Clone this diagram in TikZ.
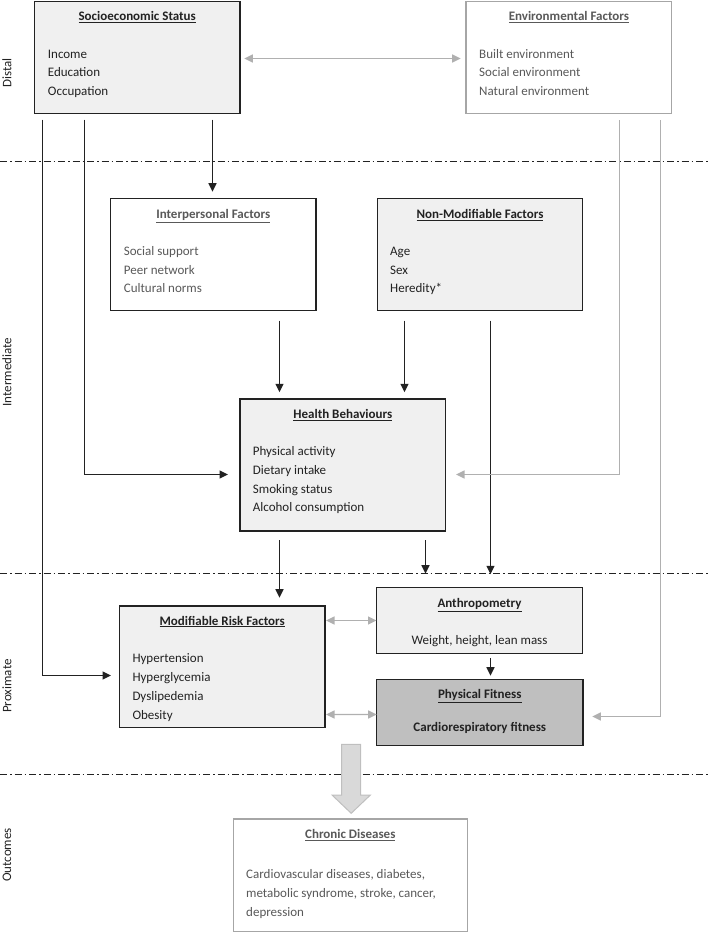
\documentclass[tikz,border=0pt]{standalone}
\usepackage{fontspec}
\setmainfont{Carlito}
\usetikzlibrary{arrows.meta,calc}
\definecolor{dk}{HTML}{222222}
\definecolor{lfill}{HTML}{F0F0F0}
\definecolor{pffill}{HTML}{BFBFBF}
\definecolor{gline}{HTML}{A6A6A6}
\definecolor{garrow}{HTML}{B0B0B0}
\definecolor{gtext}{HTML}{595959}
\definecolor{bfill}{HTML}{D9D9D9}
\definecolor{bline}{HTML}{BFBFBF}
\begin{document}
\begin{tikzpicture}[x=1pt,y=-1pt,
  font=\fontsize{13}{15.6}\selectfont,
  box/.style={draw=dk, line width=1.3pt, fill=lfill, anchor=north west, inner sep=0pt, outer sep=0pt},
  wbox/.style={box, fill=white},
  gbox/.style={box, draw=gline, fill=white},
  title/.style={anchor=base, inner sep=0pt, font=\fontsize{13}{15.6}\selectfont\bfseries, text=dk},
  gtitle/.style={title, text=gtext},
  item/.style={anchor=base west, inner sep=0pt, text=dk},
  gitem/.style={item, text=gtext},
  side/.style={rotate=90, anchor=center, inner sep=0pt, text=dk},
  arr/.style={draw=dk, line width=1.3pt, -{Triangle[length=8.5pt,width=8pt]}},
  garr/.style={draw=garrow, line width=1.3pt, -{Triangle[length=8.5pt,width=8pt]}},
  gdarr/.style={draw=garrow, line width=1.3pt, {Triangle[length=8.5pt,width=8pt]}-{Triangle[length=8.5pt,width=8pt]}},
  sep/.style={draw=dk, line width=1.3pt, dash pattern=on 7pt off 3pt on 1.5pt off 3pt},
]
\useasboundingbox (0,0) rectangle (709,934);

% level separators
\coordinate (l1a) at (0,161.5); \coordinate (l1b) at (709,161.5);
\coordinate (l2a) at (0,573.5); \coordinate (l2b) at (709,573.5);
\coordinate (l3a) at (0,774.5); \coordinate (l3b) at (709,774.5);
\draw[sep] (l1a) -- (l1b);
\draw[sep] (l2a) -- (l2b);
\draw[sep] (l3a) -- (l3b);

% side labels
\node[side] (lDistal) at (7,73) {Distal};
\node[side] (lInter) at (7,372) {Intermediate};
\node[side] (lProx) at (7,686) {Proximate};
\node[side] (lOut) at (7,855) {Outcomes};

% boxes
\node[box, minimum width=205.7pt, minimum height=112.3pt] (ses) at (34.3,1.2) {};
\node[gbox, minimum width=205.7pt, minimum height=112.3pt] (env) at (466,1.2) {};
\node[wbox, minimum width=205.3pt, minimum height=112.4pt] (inter) at (110.7,198.3) {};
\node[box, minimum width=205.4pt, minimum height=112.4pt] (nmf) at (377.3,198.3) {};
\node[box, minimum width=205.7pt, minimum height=132pt] (hb) at (240,399) {};
\node[box, minimum width=205.7pt, minimum height=121.7pt] (mrf) at (119.3,606) {};
\node[box, minimum width=206pt, minimum height=65.6pt] (anth) at (376.5,587.7) {};
\node[box, fill=pffill, minimum width=206.3pt, minimum height=66pt] (pf) at (376.7,679.3) {};
\node[gbox, minimum width=234pt, minimum height=112.5pt] (chr) at (233.3,819) {};

% texts: SES
\node[title] (sesT) at (137.2,20.7) {\underline{Socioeconomic Status}};
\foreach \t [count=\i] in {Income,Education,Occupation}
  \node[item] (sesI\i) at (47.7,{58.3+18.6*(\i-1)}) {\t};
% Env
\node[gtitle] (envT) at (568.9,20.7) {\underline{Environmental Factors}};
\foreach \t [count=\i] in {Built environment,Social environment,Natural environment}
  \node[gitem] (envI\i) at (479,{58.3+18.6*(\i-1)}) {\t};
% Interpersonal
\node[gtitle] (interT) at (213.3,218.3) {\underline{Interpersonal Factors}};
\foreach \t [count=\i] in {Social support,Peer network,Cultural norms}
  \node[gitem] (interI\i) at (123.7,{255.4+18.6*(\i-1)}) {\t};
% Non-modifiable
\node[title] (nmfT) at (480,218.3) {\underline{Non-Modifiable Factors}};
\foreach \t [count=\i] in {Age,Sex,Heredity*}
  \node[item] (nmfI\i) at (390,{255.4+18.6*(\i-1)}) {\t};
% Health behaviours
\node[title] (hbT) at (342.8,418.3) {\underline{Health Behaviours}};
\foreach \t [count=\i] in {Physical activity,Dietary intake,Smoking status,Alcohol consumption}
  \node[item] (hbI\i) at (252.7,{455.7+18.67*(\i-1)}) {\t};
% Modifiable risk factors
\node[title] (mrfT) at (222.2,625) {\underline{Modifiable Risk Factors}};
\foreach \t [count=\i] in {Hypertension,Hyperglycemia,Dyslipedemia,Obesity}
  \node[item] (mrfI\i) at (132.3,{662.7+18.77*(\i-1)}) {\t};
% Anthropometry
\node[title] (anthT) at (479.5,607.3) {\underline{Anthropometry}};
\node[anchor=base, inner sep=0pt, text=dk] (anthI) at (479.5,644) {Weight, height, lean mass};
% Physical fitness
\node[title] (pfT) at (479.8,698.3) {\underline{Physical Fitness}};
\node[title] (pfI) at (479.8,731.7) {Cardiorespiratory fitness};
% Chronic diseases
\node[gtitle] (chrT) at (350.3,838.3) {\underline{Chronic Diseases}};
\node[gitem] (chrI1) at (246,878.3) {Cardiovascular diseases, diabetes,};
\node[gitem] (chrI2) at (246,897.3) {metabolic syndrome, stroke, cancer,};
\node[gitem] (chrI3) at (246,916.5) {depression};

% connectors (black)
\draw[arr] ($(ses.south west)+(178.2,6)$) -- ($(inter.north west)+(101.8,-6.6)$);
\draw[arr] ($(ses.south west)+(50.2,6)$) |- ($(hb.west)+(-12,9.5)$);
\draw[arr] ($(ses.south west)+(8.2,6)$) |- ($(mrf.west)+(-8.3,8.65)$);
\draw[arr] ($(inter.south west)+(168.8,10)$) -- ($(hb.north west)+(39.5,-6.7)$);
\draw[arr] ($(nmf.south west)+(27.2,10)$) -- ($(hb.north west)+(164.5,-6.7)$);
\draw[arr] ($(nmf.south west)+(113.2,10)$) -- ($(anth.north west)+(114,-13.4)$);
\draw[arr] ($(hb.south west)+(185.5,9)$) -- ($(anth.north west)+(49,-14)$);
\draw[arr] ($(hb.south west)+(39.5,9)$) -- ($(mrf.north west)+(160.2,-8.3)$);
\draw[arr] ($(anth.south west)+(114,5)$) -- ($(pf.north west)+(113.8,-3.6)$);

% connectors (gray)
\draw[gdarr] ($(ses.east)+(4.3,1.15)$) -- ($(env.west)+(-5.3,1.15)$);
\draw[garr] ($(env.south west)+(153.5,6.5)$) |- ($(hb.east)+(10.3,9.5)$);
\draw[garr] ($(env.south west)+(194.5,6.5)$) |- ($(pf.east)+(9.3,4.2)$);
\draw[gdarr] ($(mrf.north east)+(1,14.5)$) -- ($(anth.west)+(0,0)$);
\draw[gdarr] ($(mrf.south east)+(1,-13.2)$) -- ($(pf.west)+(0,2.2)$);

% block arrow to chronic diseases
\draw[fill=bfill, draw=bline, line width=1pt]
  (341.7,744.3) -- (360.7,744.3) -- (360.7,795) -- (370.4,795)
  -- (351.2,813.3) -- (332.0,795) -- (341.7,795) -- cycle;
\end{tikzpicture}
\end{document}
